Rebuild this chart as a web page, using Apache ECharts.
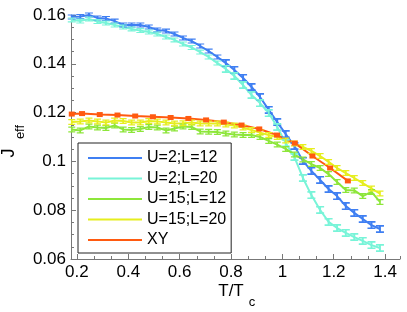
<!DOCTYPE html>
<html><head><meta charset="utf-8">
<script src="https://cdn.jsdelivr.net/npm/echarts@6/dist/echarts.min.js"></script>
<style>html,body{margin:0;padding:0;background:#fff}#c{width:407px;height:312px}</style>
</head><body><div id="c"></div>
<script>
// temperature grid T/Tc for the U series
const tValues = [0.18,0.213,0.247,0.28,0.313,0.347,0.38,0.413,0.447,0.48,0.513,0.547,0.58,0.613,0.647,0.68,0.713,0.747,0.78,0.813,0.847,0.88,0.913,0.947,0.98,1.013,1.047,1.08,1.113,1.147,1.18,1.213,1.247,1.28,1.313,1.347,1.38];
const u2L12 = [0.1592,0.1594,0.1600,0.1588,0.1586,0.1575,0.1559,0.1559,0.1559,0.1551,0.1539,0.1534,0.1522,0.1506,0.1493,0.1473,0.1452,0.1428,0.1403,0.1375,0.1342,0.1305,0.1264,0.1211,0.1161,0.1112,0.1063,0.1002,0.0961,0.0924,0.0887,0.0858,0.0817,0.0789,0.0764,0.0739,0.0723];
const u2L20 = [0.1580,0.1575,0.1584,0.1573,0.1567,0.1559,0.1551,0.1543,0.1536,0.1530,0.1522,0.1510,0.1498,0.1481,0.1467,0.1448,0.1428,0.1403,0.1379,0.1350,0.1313,0.1272,0.1239,0.1198,0.1141,0.1075,0.1018,0.0932,0.0862,0.0801,0.0752,0.0727,0.0707,0.0690,0.0674,0.0657,0.0645];
const u15L12 = [0.1131,0.1127,0.1143,0.1139,0.1137,0.1147,0.1131,0.1129,0.1133,0.1141,0.1139,0.1127,0.1135,0.1143,0.1141,0.1123,0.1122,0.1120,0.1114,0.1110,0.1108,0.1108,0.1100,0.1084,0.1069,0.1051,0.1028,0.1008,0.0989,0.0973,0.0948,0.0916,0.0883,0.0881,0.0858,0.0875,0.0834];
const u15L20 = [0.1161,0.1164,0.1168,0.1164,0.1159,0.1168,0.1166,0.1159,0.1159,0.1166,0.1164,0.1159,0.1155,0.1156,0.1159,0.1155,0.1155,0.1155,0.1151,0.1147,0.1139,0.1129,0.1118,0.1108,0.1100,0.1086,0.1073,0.1059,0.1043,0.1022,0.0998,0.0973,0.0952,0.0932,0.0911,0.0889,0.0868];
// XY model
const xyT = [0.18,0.22,0.289,0.358,0.427,0.496,0.565,0.634,0.703,0.772,0.841,0.91,0.979,1.048,1.117,1.186,1.255];
const xyJ = [0.1194,0.1196,0.1192,0.1190,0.1186,0.1183,0.1180,0.1176,0.1170,0.1161,0.1149,0.1133,0.1108,0.1075,0.1022,0.0973,0.0920];
const seriesNames = ['U=2;L=12','U=2;L=20','U=15;L=12','U=15;L=20','XY'];
// tick labels / tick positions
const xMajorTicks = [0.2,0.4,0.6,0.8,1.0,1.2,1.4];
const xMinorTicks = [0.267,0.333,0.467,0.533,0.667,0.733,0.867,0.933,1.067,1.133,1.267,1.333,1.458];
const colors = ['#3f7ff2','#78f4d8','#8de63a','#e6ee1e','#ff5a10'];

const pair = (xs, ys) => xs.map((x, i) => [x, ys[i]]);
const ibeam = 'path://M0,0H10V2.5H6.2V9.5H10V12H0V9.5H3.8V2.5H0Z';
const font = 'Liberation Sans, Arial, Helvetica, sans-serif';

const chart = echarts.init(document.getElementById('c'), null, {renderer: 'canvas'});
const mkSeries = (name, data, color, sym, size) => ({
  name, type: 'line', data, color, symbol: sym, symbolSize: size, showSymbol: true,
  lineStyle: {width: 2, color}, itemStyle: {color}, animation: false, clip: true,
  emphasis: {disabled: true}
});
const xBase = {type: 'value', min: 0.177, max: 1.458, position: 'bottom', splitLine: {show: false}};
chart.setOption({
  animation: false,
  textStyle: {fontFamily: font},
  grid: {left: 71, right: 7, top: 15, bottom: 53},
  xAxis: [
    Object.assign({}, xBase, {
      axisLine: {show: true, lineStyle: {color: '#777', width: 1}},
      axisTick: {show: true, inside: true, length: 5, customValues: xMajorTicks, lineStyle: {color: '#777'}},
      axisLabel: {color: '#000', fontSize: 17, margin: 5, fontFamily: font, customValues: xMajorTicks}
    }),
    Object.assign({}, xBase, {
      axisLine: {show: false},
      axisTick: {show: true, inside: true, length: 3, customValues: xMinorTicks, lineStyle: {color: '#777'}},
      axisLabel: {show: false, customValues: xMinorTicks}
    })
  ],
  yAxis: {
    type: 'value', min: 0.06, max: 0.16, interval: 0.02,
    axisLine: {show: true, lineStyle: {color: '#777', width: 1}},
    axisTick: {show: true, inside: true, length: 5, lineStyle: {color: '#777'}},
    minorTick: {show: true, splitNumber: 4, length: 3, lineStyle: {color: '#777'}},
    splitLine: {show: false},
    axisLabel: {color: '#000', fontSize: 17, margin: 5, fontFamily: font}
  },
  legend: {
    left: 78, top: 143, orient: 'vertical',
    backgroundColor: '#fff', borderColor: '#222', borderWidth: 1,
    padding: [5, 5, 3, 10], itemGap: 0.5, itemWidth: 54, itemHeight: 2,
    textStyle: {fontSize: 16, color: '#000', fontFamily: font, lineHeight: 20},
    data: seriesNames.map(n => ({name: n, icon: 'rect'}))
  },
  graphic: [
    {type: 'text', x: 9, y: 153, rotation: Math.PI / 2, style: {text: 'J', font: '18px ' + font, fill: '#000', align: 'center', verticalAlign: 'middle'}},
    {type: 'text', x: 20, y: 132, rotation: Math.PI / 2, style: {text: 'eff', font: '13px ' + font, fill: '#000', align: 'center', verticalAlign: 'middle'}},
    {type: 'text', x: 231, y: 291, style: {text: 'T/T', font: '17px ' + font, fill: '#000', align: 'center', verticalAlign: 'middle'}},
    {type: 'text', x: 252, y: 302, style: {text: 'c', font: '13px ' + font, fill: '#000', align: 'center', verticalAlign: 'middle'}}
  ],
  series: [
    mkSeries(seriesNames[0], pair(tValues, u2L12), colors[0], ibeam, (v, p) => [8, p.dataIndex > 17 ? 8 : 5]),
    mkSeries(seriesNames[1], pair(tValues, u2L20), colors[1], ibeam, (v, p) => [8, p.dataIndex > 17 ? 8 : 5]),
    mkSeries(seriesNames[2], pair(tValues, u15L12), colors[2], ibeam, [7, 6]),
    mkSeries(seriesNames[3], pair(tValues, u15L20), colors[3], ibeam, [7, 6]),
    mkSeries(seriesNames[4], pair(xyT, xyJ), colors[4], 'rect', [6, 5])
  ]
});
</script></body></html>
